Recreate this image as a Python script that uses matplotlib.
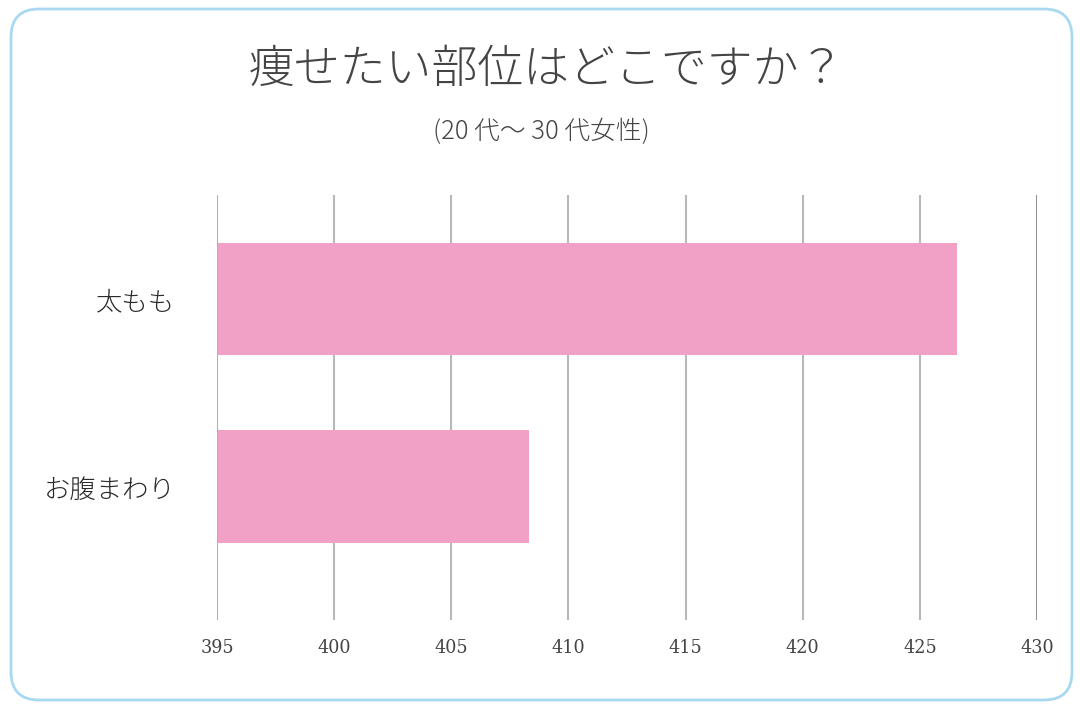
import matplotlib
matplotlib.use("Agg")
import matplotlib.pyplot as plt
from matplotlib.patches import FancyBboxPatch

# Survey data
categories = ["太もも", "お腹まわり"]
values = [426.6, 408.3]
x_ticks = [395, 400, 405, 410, 415, 420, 425, 430]

title = "痩せたい部位はどこですか？"
subtitle = "(20 代〜 30 代女性)"

W, H = 1080, 709
fig = plt.figure(figsize=(W / 100, H / 100), dpi=100)
fig.patch.set_facecolor("white")

# Rounded frame around the whole card
bg = fig.add_axes([0, 0, 1, 1])
bg.set_xlim(0, W)
bg.set_ylim(0, H)
bg.axis("off")
frame = FancyBboxPatch((11, 9), 1061, 691,
                       boxstyle="round,pad=0,rounding_size=28",
                       fill=False, edgecolor="#a9d9f1", linewidth=2.0)
bg.add_patch(frame)

cjk = ["Noto Sans CJK JP", "DejaVu Sans"]
bg.text(547, H - 70, title, ha="center", va="center", fontsize=33,
        color="#444444", family=cjk, fontweight="light")
bg.text(541, H - 132, subtitle, ha="center", va="center", fontsize=18.5,
        color="#444444", family=cjk, fontweight="light")

# Bar chart area
left, right, top, bottom = 217, 1037, 195, 620
ax = fig.add_axes([left / W, 1 - bottom / H, (right - left) / W, (bottom - top) / H])
ax.set_facecolor("none")
ypos = [1, 0]
ax.barh(ypos, values, height=0.6, left=0, color="#f0a1c5", zorder=2)
ax.set_xlim(x_ticks[0], x_ticks[-1])
ax.set_ylim(-0.712, 1.555)

for t in x_ticks[1:-1]:
    ax.axvline(t, color="#b8b8b8", linewidth=1.5, zorder=1)
ax.axvline(x_ticks[0], color="#b0b0b0", linewidth=1.5, zorder=3)
ax.axvline(x_ticks[-1], color="#858585", linewidth=1.3, zorder=1)

for s in ax.spines.values():
    s.set_visible(False)
ax.set_xticks(x_ticks)
ax.set_xticklabels([str(t) for t in x_ticks], fontsize=14, color="#444444",
                   family="DejaVu Serif", fontstretch="condensed")
ax.tick_params(axis="x", length=0, pad=14)
ax.set_yticks(ypos)
ax.set_yticklabels(categories, fontsize=19, color="#2a2a2a", family=cjk,
                   fontweight="light")
ax.tick_params(axis="y", length=0, pad=30)

fig.savefig("out.png", dpi=100, facecolor="white")
